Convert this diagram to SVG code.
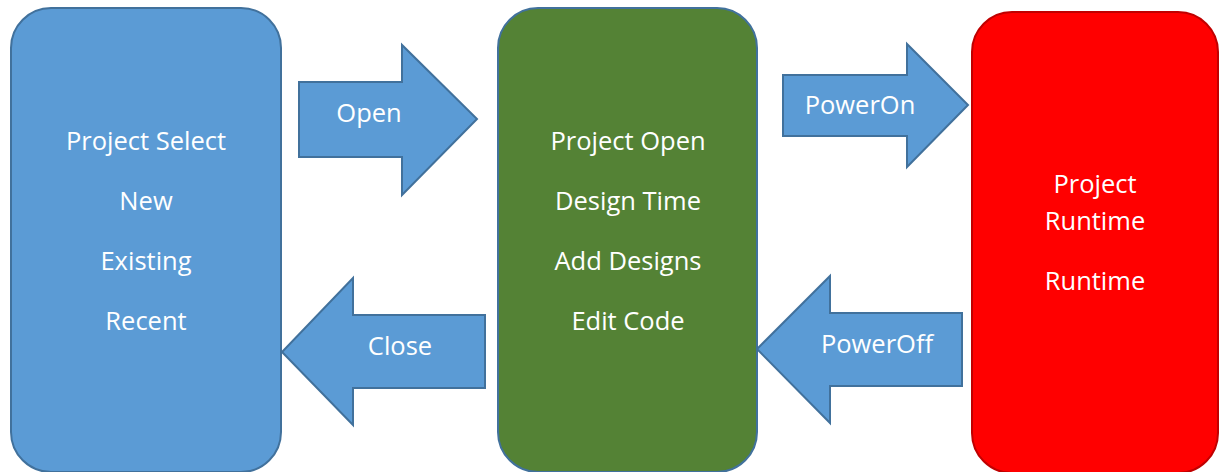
<svg xmlns="http://www.w3.org/2000/svg" width="1219" height="472" viewBox="0 0 1219 472">
<style>
.box{stroke-width:2}
.blue{fill:#5B9BD5;stroke:#41719C}
.green{fill:#548235;stroke:#41719C}
.red{fill:#FF0000;stroke:#C00000}
.arrow{fill:#5B9BD5;stroke:#41719C;stroke-width:2;stroke-linejoin:miter}
text{font-family:"Open Sans","Liberation Sans",sans-serif;font-size:25.5px;fill:#FFFFFF;text-anchor:middle}
</style>
<rect width="1219" height="472" fill="#FFFFFF"/>
<g id="project-select">
<rect class="box blue" x="11" y="8" width="270" height="464" rx="40" ry="40"/>
<text x="146" y="150">Project Select</text>
<text x="146" y="210">New</text>
<text x="146" y="270">Existing</text>
<text x="146" y="330">Recent</text>
</g>
<g id="project-open">
<rect class="box green" x="498" y="8" width="259" height="464" rx="40" ry="40"/>
<text x="628" y="150">Project Open</text>
<text x="628" y="210">Design Time</text>
<text x="628" y="270">Add Designs</text>
<text x="628" y="330">Edit Code</text>
</g>
<g id="project-runtime">
<rect class="box red" x="972" y="12" width="246" height="461" rx="40" ry="40"/>
<text x="1095" y="193">Project</text>
<text x="1095" y="230">Runtime</text>
<text x="1095" y="290">Runtime</text>
</g>
<g id="connectors">
<g id="open">
<polygon class="arrow" points="299,82 402,82 402,45 477,119 402,195 402,157 299,157"/>
<text x="369" y="122">Open</text>
</g>
<g id="close">
<polygon class="arrow" points="485,315 353,315 353,278 282,352 353,425 353,388 485,388"/>
<text x="400" y="355">Close</text>
</g>
<g id="poweron">
<polygon class="arrow" points="783,75 907,75 907,44 968,105 907,167 907,136 783,136"/>
<text x="860" y="114">PowerOn</text>
</g>
<g id="poweroff">
<polygon class="arrow" points="962,313 830,313 830,276 757,349 830,423 830,386 962,386"/>
<text x="877" y="353">PowerOff</text>
</g>
</g>
</svg>
